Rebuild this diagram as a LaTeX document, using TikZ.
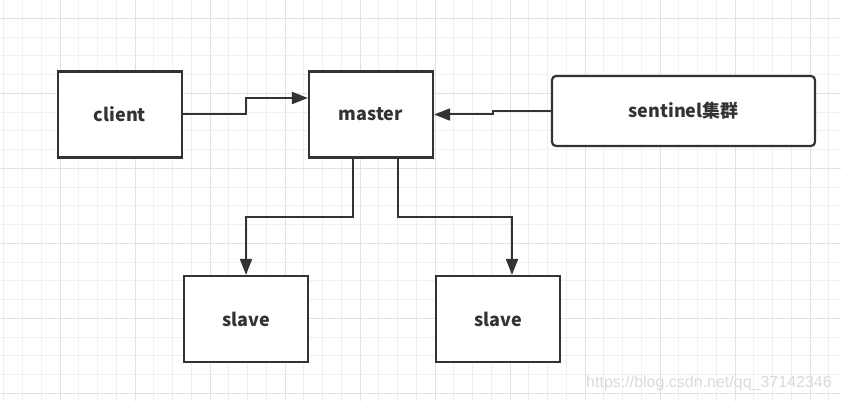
\documentclass[tikz,border=0pt]{standalone}
\usepackage{fontspec}
\newfontfamily\lbl{Noto Sans CJK SC}
\newfontfamily\wmfont{Liberation Sans}
\usetikzlibrary{arrows.meta,calc}
\definecolor{ink}{HTML}{333333}
\definecolor{gridminor}{HTML}{F0F0F0}
\definecolor{gridmajor}{HTML}{E2E2E2}
\definecolor{wm}{HTML}{DADADA}
\tikzset{
  box/.style={draw=ink, line width=2.2pt, fill=white, inner sep=0pt,
    minimum width=124pt, minimum height=86pt,
    font=\lbl\bfseries\fontsize{18}{20}\selectfont, text=ink},
  roundbox/.style={box, rounded corners=4pt},
  conn/.style={draw=ink, line width=2pt,
    -{Triangle[length=16pt,width=12pt]}},
}
\begin{document}
\begin{tikzpicture}[x=1pt,y=-1pt]
\useasboundingbox (0,0) rectangle (841,401);
\fill[white] (0,0) rectangle (841,401);
% grid
\foreach \i in {0,...,45} {
  \draw[gridminor, line width=1pt] ({3.75+18.75*\i},0) -- ({3.75+18.75*\i},401);
}
\foreach \i in {0,...,22} {
  \draw[gridminor, line width=1pt] (0,{-0.45+18.75*\i}) -- (841,{-0.45+18.75*\i});
}
\foreach \i in {0,...,11} {
  \draw[gridmajor, line width=1pt] ({60+75*\i},0) -- ({60+75*\i},401);
}
\foreach \i in {0,...,5} {
  \draw[gridmajor, line width=1pt] (0,{18.3+75*\i}) -- (841,{18.3+75*\i});
}
% nodes
\node[box] (client) at (120,114.5) {client};
\node[box] (master) at (371,114.5) {master};
\node[roundbox, minimum width=263pt, minimum height=70pt] (sentinel) at (683.5,111) {sentinel集群};
\node[box] (slave1) at (246,319) {slave};
\node[box] (slave2) at (498,319) {slave};
% bends
\coordinate (j1) at (246,98);
\coordinate (j2) at (493,114.5);
\coordinate (b1) at (353,217);
\coordinate (b2) at (398,217);
\coordinate (e2) at (512,275);
% connectors
\draw[conn] (client.east) -| (j1) -- (j1 -| master.west);
\draw[conn] (sentinel.west) -| (j2) -- (master.east);
\draw[conn] (master.south -| b1) -- (b1) -| (slave1.north);
\draw[conn] (master.south -| b2) -- (b2) -| (slave2.north -| e2);
% watermark
\node[text=wm, font=\wmfont\fontsize{16}{18}\selectfont, inner sep=0pt] (mark) at (709,383) {https://blog.csdn.net/qq\_37142346};
\end{tikzpicture}
\end{document}
